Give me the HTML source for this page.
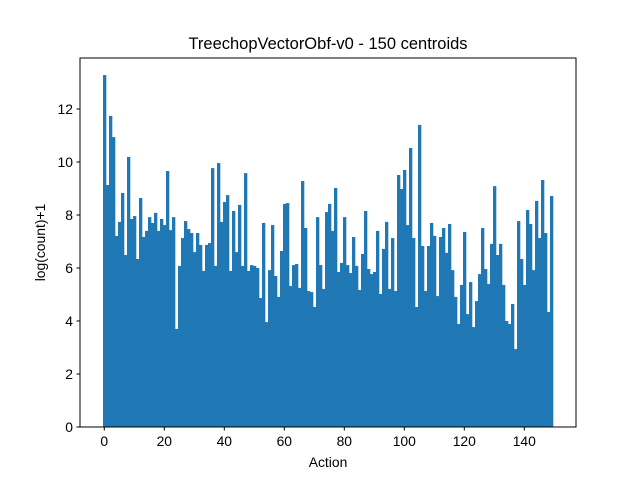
<!DOCTYPE html>
<html><head><meta charset="utf-8"><style>
html,body{margin:0;padding:0;background:#fff;}
svg text{font-family:"Liberation Sans","DejaVu Sans",sans-serif;fill:#000;}
</style></head><body>
<svg id="chart" width="640" height="480" viewBox="0 0 640 480" xmlns="http://www.w3.org/2000/svg">
<rect width="640" height="480" fill="#fff"/>
<text x="328" y="49" font-size="16.5" text-anchor="middle">TreechopVectorObf-v0 - 150 centroids</text>
<g id="bars"></g>
<g id="xticks"></g>
<g id="yticks"></g>
<rect x="80" y="58" width="496" height="369" fill="none" stroke="#000" stroke-width="1"/>
<text x="328" y="467" font-size="13.9" text-anchor="middle">Action</text>
<text transform="translate(45,242.5) rotate(-90)" font-size="13.9" text-anchor="middle">log(count)+1</text>
</svg>
<script>
const values = [13.28,9.13,11.74,10.94,7.21,7.74,8.83,6.49,10.19,7.85,7.96,6.34,8.64,7.17,7.4,7.92,7.7,8.08,7.4,7.85,7.62,9.66,7.43,7.92,3.7,6.08,7.13,7.77,7.47,7.32,6.6,7.32,6.87,5.89,6.87,6.94,9.77,6.08,9.96,7.74,8.49,8.75,5.89,8.15,6.6,8.38,6.08,9.58,5.89,6.11,6.08,6.0,4.87,7.7,3.96,5.92,7.62,5.7,4.91,6.64,8.42,8.45,5.32,6.11,6.15,5.25,9.28,7.51,5.13,5.09,4.53,7.92,6.11,5.21,8.11,8.42,7.4,9.02,5.85,6.19,7.92,6.11,5.81,7.17,6.08,5.17,6.53,8.15,5.96,5.77,5.85,7.4,5.02,6.72,7.74,5.21,7.13,5.13,9.51,8.98,9.7,7.62,10.53,7.13,4.53,11.4,6.83,5.13,6.83,7.7,7.21,4.94,7.17,7.51,6.57,7.66,5.92,4.91,3.89,5.36,7.36,4.26,5.47,3.77,4.75,5.77,7.51,5.96,5.4,6.91,9.09,6.49,6.91,5.36,4.0,3.89,4.64,2.94,7.77,6.34,5.36,8.19,7.66,5.92,8.53,7.13,9.32,7.32,4.34,8.72];
const xTicks = [0,20,40,60,80,100,120,140];
const yTicks = [0,2,4,6,8,10,12];
const NS="http://www.w3.org/2000/svg";
function xs(v){return 104.3+3.0*v;}
function ys(v){return 427-26.5*v;}
const bars=document.getElementById('bars');
values.forEach((v,i)=>{
  const r=document.createElementNS(NS,'rect');
  const x0=xs(i-0.43), x1=xs(i+0.57);
  r.setAttribute('x',x0);r.setAttribute('width',x1-x0+0.3);
  r.setAttribute('y',ys(v));r.setAttribute('height',ys(0)-ys(v));
  r.setAttribute('fill','#1f77b4');
  
  
  bars.appendChild(r);
});
const xg=document.getElementById('xticks');
xTicks.forEach(t=>{
  const l=document.createElementNS(NS,'line');
  l.setAttribute('x1',xs(t));l.setAttribute('x2',xs(t));l.setAttribute('y1',427);l.setAttribute('y2',430.5);l.setAttribute('stroke','#000');
  
  
  xg.appendChild(l);
  const tx=document.createElementNS(NS,'text');
  tx.setAttribute('x',xs(t));tx.setAttribute('y',446);tx.setAttribute('font-size','13.9');tx.setAttribute('text-anchor','middle');
  tx.textContent=t;
  
  
  xg.appendChild(tx);
});
const yg=document.getElementById('yticks');
yTicks.forEach(t=>{
  const l=document.createElementNS(NS,'line');
  l.setAttribute('x1',76.5);l.setAttribute('x2',80);l.setAttribute('y1',ys(t));l.setAttribute('y2',ys(t));l.setAttribute('stroke','#000');
  
  
  yg.appendChild(l);
  const tx=document.createElementNS(NS,'text');
  tx.setAttribute('x',73);tx.setAttribute('y',ys(t)+5);tx.setAttribute('font-size','13.9');tx.setAttribute('text-anchor','end');
  tx.textContent=t;
  
  
  yg.appendChild(tx);
});
</script>
</body></html>
